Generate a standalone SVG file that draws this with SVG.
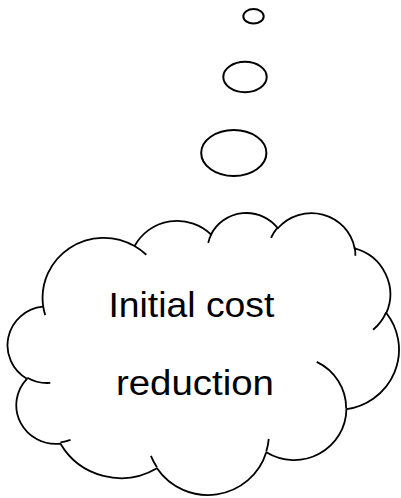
<svg xmlns="http://www.w3.org/2000/svg" width="401" height="498" viewBox="0 0 401 498">
<style>
.ln{fill:none;stroke:#000;stroke-width:1.8;vector-effect:non-scaling-stroke;stroke-linejoin:round}
.bub{fill:#fff;stroke:#000;stroke-width:2}
.lbl{font-family:"Liberation Sans",Arial,sans-serif;font-size:35px;fill:#000}
</style>
<rect width="401" height="498" fill="#fff"/>
<g id="bubble-small"><ellipse class="bub" cx="253.5" cy="16.3" rx="10.2" ry="7.2"/></g>
<g id="bubble-medium"><ellipse class="bub" cx="245" cy="77" rx="21.7" ry="15.2"/></g>
<g id="bubble-large"><ellipse class="bub" cx="233.8" cy="153" rx="32.6" ry="23"/></g>
<g id="cloud">
<g transform="translate(7.83 212.09) scale(0.009051 0.006525)">
<path class="ln" style="fill:#fff" d="M3900,14370 A6753,9190 0 0 1 14005,5202 A5333,7267 0 0 1 22456,3432 A4365,5945 0 0 1 29833,2481 A4857,6595 0 0 1 38318,5576 A5333,7273 0 0 1 41818,15460 A6775,9220 0 0 1 37404,30203 A5785,7867 0 0 1 28556,36813 A6752,9215 0 0 1 16480,39264 A7720,10543 0 0 1 5804,35470 A4360,5918 0 0 1 2112,25548 A4345,5945 0 0 1 3862,14504 Z"/>
<path class="ln" d="M4693,26177 A4345,5945 0 0 1 2160,25380 M6928,34899 A4360,5918 0 0 1 5820,35281 M16478,39090 A6752,9215 0 0 1 15810,37350 M28827,34751 A6752,9215 0 0 1 28560,36660 M34129,22954 A5785,7867 0 0 1 37380,30090 M41798,15354 A5333,7273 0 0 1 40350,18030 M38324,5426 A4857,6595 0 0 1 38400,6690 M29078,3952 A4857,6595 0 0 1 29820,2341 M22141,4720 A4365,5945 0 0 1 22500,3330 M14000,5192 A6753,9190 0 0 1 15300,6540 M4127,15789 A6753,9190 0 0 1 3900,14370"/>
</g>
<text class="lbl" x="108.4" y="317" textLength="166" lengthAdjust="spacingAndGlyphs">Initial cost</text>
<text class="lbl" x="115.9" y="395" textLength="158" lengthAdjust="spacingAndGlyphs">reduction</text>
</g>
</svg>
